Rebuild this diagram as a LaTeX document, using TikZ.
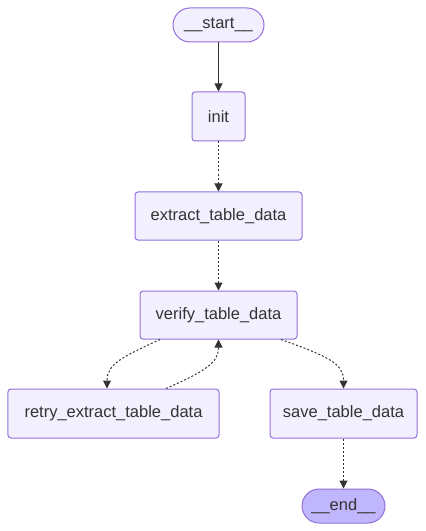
\documentclass[tikz,border=0pt]{standalone}
\usepackage{fontspec}
\setmainfont{Liberation Sans}
\usetikzlibrary{arrows.meta,calc}
\definecolor{nfill}{HTML}{F2F0FF}
\definecolor{nstroke}{HTML}{9370DB}
\definecolor{efill}{HTML}{BFB6FC}
\definecolor{txt}{HTML}{333333}
\tikzset{
  box/.style={draw=nstroke, fill=nfill, line width=1bp, rounded corners=3bp, text=txt,
    font=\fontsize{16.5bp}{19bp}\selectfont, inner sep=0pt, anchor=center},
  pill/.style={box, rounded corners=17bp},
  edge/.style={draw=txt, line width=1bp, -{Triangle[length=8bp,width=8bp]}},
  dotedge/.style={edge, dash pattern=on 2bp off 2bp},
}
\begin{document}
\begin{tikzpicture}[x=1bp,y=-1bp]
\useasboundingbox (0,0) rectangle (425,531);
\node[pill, minimum width=91bp, minimum height=34bp] (start) at (218.5,25) {\_\_start\_\_};
\node[box, minimum width=53bp, minimum height=49bp] (init) at (218.5,116.5) {init};
\node[box, minimum width=167bp, minimum height=48bp] (extract) at (218.5,216) {extract\_table\_data};
\node[box, minimum width=157bp, minimum height=48bp] (verify) at (218.5,315) {verify\_table\_data};
\node[box, minimum width=211bp, minimum height=49bp] (retry) at (113.5,413.5) {retry\_extract\_table\_data};
\node[box, minimum width=147bp, minimum height=49bp] (save) at (343.5,413.5) {save\_table\_data};
\node[pill, fill=efill, minimum width=83bp, minimum height=34bp] (end) at (343.5,506) {\_\_end\_\_};

\draw[edge] (start) -- (init);
\draw[dotedge] (init) -- (extract);
\draw[dotedge] (extract) -- (verify);
\draw[dotedge] ($(verify.south)+(-58.5,0)$) .. controls (122,357) and (107,364) .. ($(retry.north)+(-6.5,0)$);
\draw[dotedge] ($(retry.north)+(52.5,0)$) .. controls (208,370) and (218.5,362) .. (verify.south);
\draw[dotedge] ($(verify.south)+(62.5,0)$) .. controls (330,357) and (343.5,364) .. (save.north);
\draw[dotedge] (save) -- (end);
\end{tikzpicture}
\end{document}
